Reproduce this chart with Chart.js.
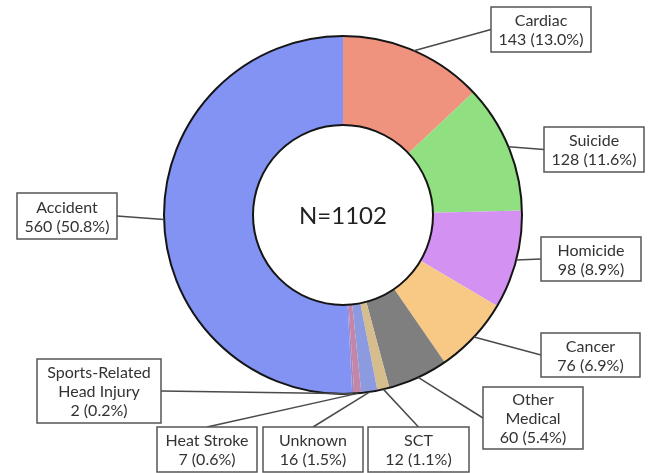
<!DOCTYPE html>
<html>
<head>
<meta charset="utf-8">
<title>Causes of death (N=1102)</title>
<script src="https://cdn.jsdelivr.net/npm/chart.js@4.4.1/dist/chart.umd.min.js"></script>
<style>
  html, body { margin: 0; padding: 0; background: #ffffff; }
  #wrap { width: 650px; height: 473px; }
</style>
</head>
<body>
<div id="wrap"><canvas id="chart" width="650" height="473"></canvas></div>
<script>
// Cause-of-death categories, clockwise from 12 o'clock
const categories = [
  ['Cardiac'], ['Suicide'], ['Homicide'], ['Cancer'], ['Other', 'Medical'],
  ['SCT'], ['Unknown'], ['Heat Stroke'], ['Sports-Related', 'Head Injury'], ['Accident']
];
// Number of deaths per category
const deaths = [143, 128, 98, 76, 60, 12, 16, 7, 2, 560];
const totalLabel = 'N=' + deaths.reduce((a, b) => a + b, 0);

// Slice fill colours
const sliceColors = [
  '#ef937e', '#90e081', '#d391f2', '#f7c984', '#7f7f7f',
  '#d6bd8e', '#8c9be0', '#c486a8', '#a784b8', '#8393f3'
];

// Callout boxes: rectangle and the side the leader line leaves from
const callouts = [
  { x: 491, y: 7,   w: 100, h: 45, side: 'left' },
  { x: 544, y: 127, w: 100, h: 45, side: 'left' },
  { x: 541, y: 237, w: 100, h: 44, side: 'left' },
  { x: 541, y: 333, w: 99,  h: 44, side: 'left' },
  { x: 483, y: 387, w: 100, h: 62, side: 'left' },
  { x: 368, y: 427, w: 101, h: 45, side: 'top' },
  { x: 263, y: 427, w: 100, h: 45, side: 'top' },
  { x: 157, y: 427, w: 100, h: 45, side: 'top' },
  { x: 37,  y: 359, w: 124, h: 64, side: 'right' },
  { x: 17,  y: 193, w: 100, h: 46, side: 'right' }
];

const FONT = 'Lato, "Noto Sans", sans-serif';

// Black outlines on the outer and inner edges of the ring
const ringOutline = {
  id: 'ringOutline',
  afterDatasetsDraw(chart) {
    const arc = chart.getDatasetMeta(0).data[0];
    if (!arc) return;
    const { x, y, outerRadius, innerRadius } = arc.getProps(['x', 'y', 'outerRadius', 'innerRadius'], true);
    const ctx = chart.ctx;
    ctx.save();
    ctx.strokeStyle = '#151515';
    ctx.lineWidth = 2;
    ctx.beginPath();
    ctx.arc(x, y, outerRadius, 0, Math.PI * 2);
    ctx.stroke();
    ctx.beginPath();
    ctx.arc(x, y, innerRadius, 0, Math.PI * 2);
    ctx.stroke();
    // total in the hole
    ctx.fillStyle = '#222222';
    ctx.font = '24px ' + FONT;
    ctx.textAlign = 'center';
    ctx.textBaseline = 'middle';
    ctx.fillText(totalLabel, x, y + 1);
    ctx.restore();
  }
};

// Boxed value labels joined to their slices by leader lines
const calloutLabels = {
  id: 'calloutLabels',
  afterDraw(chart) {
    const meta = chart.getDatasetMeta(0);
    const data = chart.data.datasets[0].data;
    const total = data.reduce((a, b) => a + b, 0);
    const ctx = chart.ctx;
    ctx.save();
    meta.data.forEach((arc, i) => {
      const box = callouts[i];
      const p = arc.getProps(['x', 'y', 'startAngle', 'endAngle', 'outerRadius'], true);
      const mid = (p.startAngle + p.endAngle) / 2;
      const ex = p.x + Math.cos(mid) * p.outerRadius;
      const ey = p.y + Math.sin(mid) * p.outerRadius;
      let bx, by;
      if (box.side === 'left') { bx = box.x; by = box.y + box.h / 2; }
      else if (box.side === 'right') { bx = box.x + box.w; by = box.y + box.h / 2; }
      else { bx = box.x + box.w / 2; by = box.y; }

      ctx.strokeStyle = '#4a4a4a';
      ctx.lineWidth = 1.5;
      ctx.beginPath();
      ctx.moveTo(ex, ey);
      ctx.lineTo(bx, by);
      ctx.stroke();

      ctx.fillStyle = '#ffffff';
      ctx.fillRect(box.x, box.y, box.w, box.h);
      ctx.strokeStyle = '#555555';
      ctx.lineWidth = 1.5;
      ctx.strokeRect(box.x, box.y, box.w, box.h);

      const lines = chart.data.labels[i].slice();
      lines.push(data[i] + ' (' + (data[i] / total * 100).toFixed(1) + '%)');
      const lh = 19;
      const top = box.y + box.h / 2 - (lines.length - 1) * lh / 2;
      ctx.fillStyle = '#333333';
      ctx.font = '16px ' + FONT;
      ctx.textAlign = 'center';
      ctx.textBaseline = 'middle';
      lines.forEach((t, k) => ctx.fillText(t, box.x + box.w / 2, top + k * lh + 1));
    });
    ctx.restore();
  }
};

new Chart(document.getElementById('chart'), {
  type: 'doughnut',
  data: {
    labels: categories,
    datasets: [{
      data: deaths,
      backgroundColor: sliceColors,
      borderWidth: 0,
      hoverOffset: 0
    }]
  },
  options: {
    responsive: false,
    animation: false,
    radius: 179,
    cutout: 90,
    rotation: 0,
    layout: { padding: { left: 164, right: 128, top: 36, bottom: 79 } },
    plugins: {
      legend: { display: false },
      tooltip: { enabled: false },
      title: { display: false }
    },
    events: []
  },
  plugins: [ringOutline, calloutLabels]
});
</script>
</body>
</html>
